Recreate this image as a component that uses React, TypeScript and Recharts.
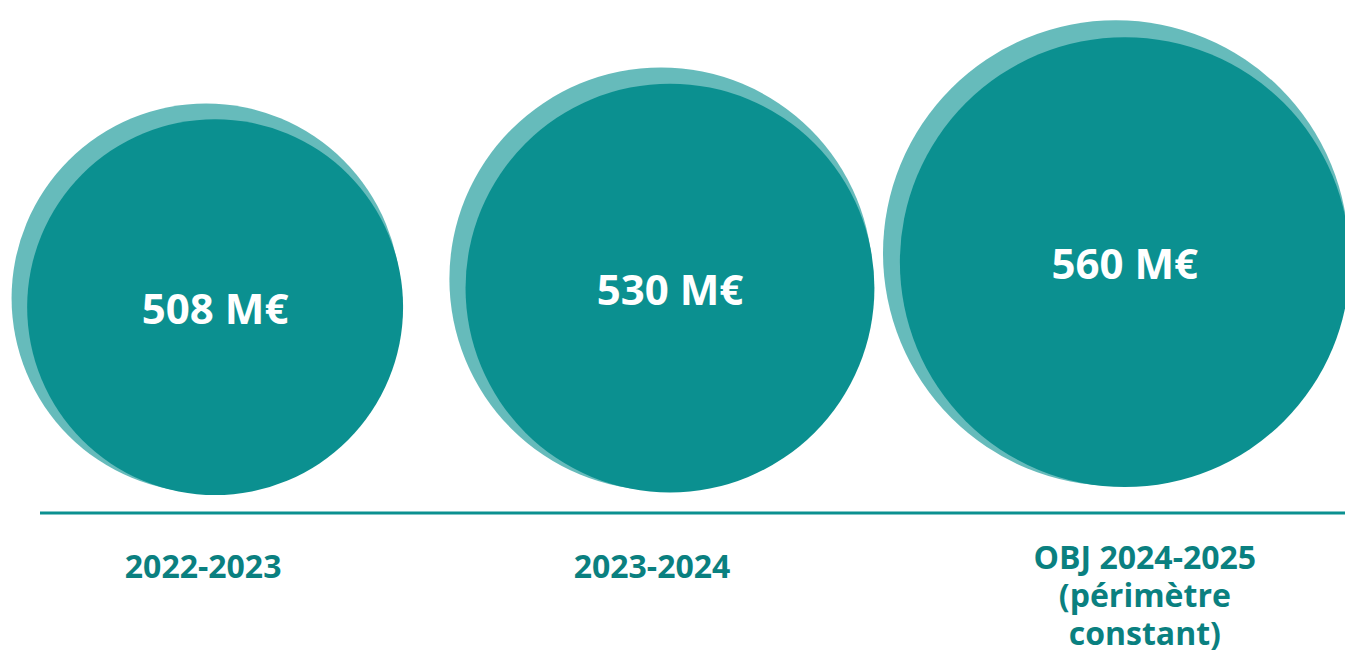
import { ScatterChart, Scatter, XAxis, YAxis, ZAxis } from "recharts";

document.body.style.margin = "0";

const DARK = "#0b9090";
const LIGHT = "#66bbbb";
const LABEL = "#0a8080";
const FONT = "'Open Sans', 'Noto Sans', sans-serif";

const periods = ["2022-2023", "2023-2024", "OBJ 2024-2025\n(périmètre\nconstant)"];
const budgets = [508, 530, 560];
const valueLabels = ["508 M€", "530 M€", "560 M€"];

// labels are not exactly under the bubble centres in the original layout
const labelShift = [-12, -18, 20];

const data = periods.map((p, i) => ({
  idx: i,
  period: p,
  value: budgets[i],
  label: valueLabels[i],
}));

// two stacked discs, a lighter one slightly up-left behind the main one
const Bubble = (props: any) => {
  const { cx, cy, width, payload } = props;
  const r = width / 2;
  return (
    <g>
      <circle cx={cx - 9} cy={cy - 9} r={r * 1.035} fill={LIGHT} />
      <circle cx={cx} cy={cy} r={r} fill={DARK} />
      <text
        x={cx}
        y={cy}
        textAnchor="middle"
        dominantBaseline="central"
        fill="#fff"
        fontFamily={FONT}
        fontWeight={700}
        fontSize={42}
      >
        {payload.label}
      </text>
    </g>
  );
};

const PeriodTick = (props: any) => {
  const { x, payload } = props;
  const lines = periods[payload.value].split("\n");
  const base = lines.length > 1 ? 556 : 565;
  const tx = x + labelShift[payload.value];
  return (
    <text
      x={tx}
      textAnchor="middle"
      fill={LABEL}
      fontFamily={FONT}
      fontWeight={700}
      fontSize={32}
    >
      {lines.map((l, i) => (
        <tspan key={i} x={tx} y={base + i * 38} dominantBaseline="central">
          {l}
        </tspan>
      ))}
    </text>
  );
};

export default function App() {
  return (
    <ScatterChart
      width={1345}
      height={650}
      margin={{ top: 0, right: 0, bottom: 0, left: 40 }}
    >
      <XAxis
        type="number"
        dataKey="idx"
        domain={[-0.385, 2.484]}
        ticks={[0, 1, 2]}
        tick={<PeriodTick />}
        tickLine={false}
        axisLine={{ stroke: DARK, strokeWidth: 3 }}
        height={137}
        interval={0}
      />
      <YAxis type="number" dataKey="value" domain={[270, 863]} hide />
      <ZAxis type="number" dataKey="value" domain={[508, 560]} range={[111000, 159000]} />
      <Scatter data={data} shape={<Bubble />} isAnimationActive={false} />
    </ScatterChart>
  );
}
